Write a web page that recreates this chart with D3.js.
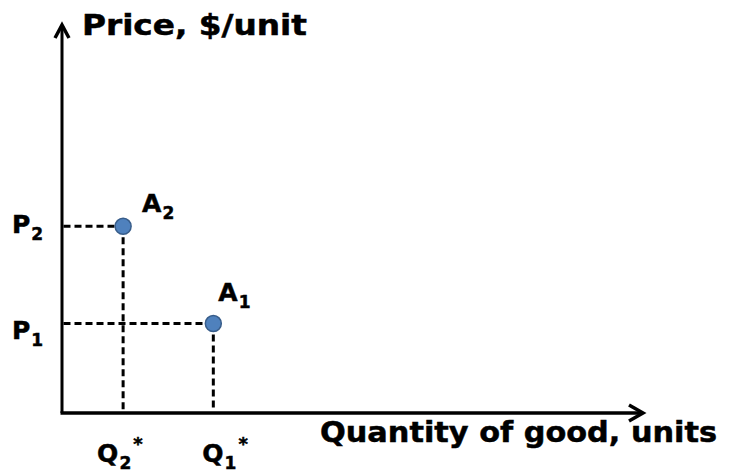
<!DOCTYPE html>
<html>
<head>
<meta charset="utf-8">
<script src="https://cdn.jsdelivr.net/npm/d3@7"></script>
<style>
  body { margin: 0; background: #fff; }
  text { font-family: "DejaVu Sans", Verdana, sans-serif; font-weight: bold; fill: #000; stroke: #000; stroke-width: 0.5px; }
</style>
</head>
<body>
<div id="chart"></div>
<script>
// Equilibrium points (quantity, price) in arbitrary units
var pointNames = ["A1", "A2"];
var quantities = [26, 10.5];
var prices = [23, 48];
var subs = ["1", "2"];   // subscripts for A_i, P_i, Q_i*

var width = 731, height = 475;

var svg = d3.select("#chart")
    .append("svg")
    .attr("width", width)
    .attr("height", height);

// scales: origin at the corner of the axes
var x = d3.scaleLinear().domain([0, 100]).range([62, 644]);
var y = d3.scaleLinear().domain([0, 100]).range([413, 24]);

// axes with open arrow heads
svg.append("line")
    .attr("x1", x(0)).attr("y1", y(0))
    .attr("x2", x(0)).attr("y2", y(100) + 1)
    .attr("stroke", "#000").attr("stroke-width", 3);
svg.append("path")
    .attr("d", "M" + (x(0) - 7) + "," + (y(100) + 14) + "L" + x(0) + "," + (y(100) + 1) + "L" + (x(0) + 7) + "," + (y(100) + 14))
    .attr("fill", "none").attr("stroke", "#000").attr("stroke-width", 3.5);

svg.append("line")
    .attr("x1", x(0) - 1.5).attr("y1", y(0))
    .attr("x2", x(100) - 1).attr("y2", y(0))
    .attr("stroke", "#000").attr("stroke-width", 3.5);
svg.append("path")
    .attr("d", "M" + (x(100) - 15) + "," + (y(0) - 8) + "L" + (x(100) - 1) + "," + y(0) + "L" + (x(100) - 15) + "," + (y(0) + 8))
    .attr("fill", "none").attr("stroke", "#000").attr("stroke-width", 3.5);

// dashed guide lines
var idx = d3.range(quantities.length);
svg.selectAll(".hguide")
    .data(idx)
    .enter()
    .append("line")
    .attr("x1", x(0) + 1.5).attr("x2", function (i) { return x(quantities[i]); })
    .attr("y1", function (i) { return y(prices[i]); })
    .attr("y2", function (i) { return y(prices[i]); })
    .attr("stroke", "#000").attr("stroke-width", 3)
    .attr("stroke-dasharray", "7,4");

svg.selectAll(".vguide")
    .data(idx)
    .enter()
    .append("line")
    .attr("x1", function (i) { return x(quantities[i]); })
    .attr("x2", function (i) { return x(quantities[i]); })
    .attr("y1", function (i) { return y(prices[i]); })
    .attr("y2", y(0) - 1.5)
    .attr("stroke", "#000").attr("stroke-width", 3)
    .attr("stroke-dasharray", "7,4");

// points
svg.selectAll("circle")
    .data(idx)
    .enter()
    .append("circle")
    .attr("cx", function (i) { return x(quantities[i]); })
    .attr("cy", function (i) { return y(prices[i]); })
    .attr("r", 8)
    .attr("fill", "#4f81bd")
    .attr("stroke", "#385d8a")
    .attr("stroke-width", 1.5);

// label helper: main letter + subscript (+ optional superscript star)
function label(tx, ty, main, sub, star) {
    var t = svg.append("text")
        .attr("x", tx).attr("y", ty)
        .style("font-size", "25px");
    t.append("tspan").text(main);
    t.append("tspan").attr("dx", 1).attr("dy", 7).style("font-size", "17px").text(sub);
    if (star) {
        t.append("tspan").attr("dx", 2).attr("dy", -19).style("font-size", "18px").text("*");
    }
}

// point names, each placed a little differently from its point
var aOffsets = [[5, -23], [19, -14]];
idx.forEach(function (i) {
    label(x(quantities[i]) + aOffsets[i][0], y(prices[i]) + aOffsets[i][1], "A", subs[i]);
});

// price labels at the y axis
var pOffsets = [15, 7];
idx.forEach(function (i) {
    label(12, y(prices[i]) + pOffsets[i], "P", subs[i]);
});

// quantity labels below the x axis
var qOffsets = [-11, -26];
idx.forEach(function (i) {
    label(x(quantities[i]) + qOffsets[i], 462, "Q", subs[i], true);
});

// axis titles (glyphs stretched to the wide face of the original)
svg.append("text")
    .attr("x", 82).attr("y", 35)
    .attr("textLength", 225).attr("lengthAdjust", "spacingAndGlyphs")
    .style("font-size", "28px")
    .text("Price, $/unit");

svg.append("text")
    .attr("x", 320).attr("y", 442)
    .attr("textLength", 397).attr("lengthAdjust", "spacingAndGlyphs")
    .style("font-size", "28px")
    .text("Quantity of good, units");
</script>
</body>
</html>
